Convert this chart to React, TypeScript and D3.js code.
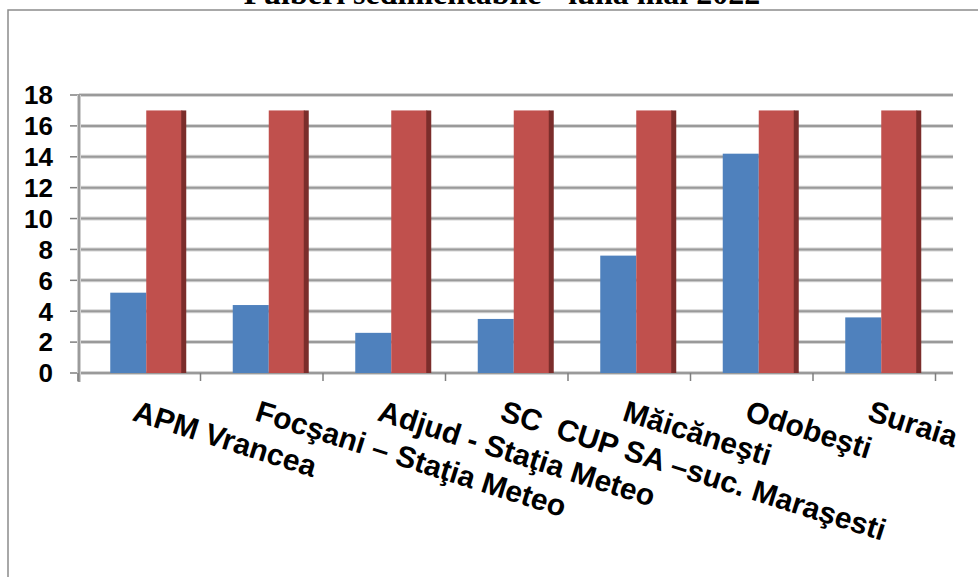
import React from "react";
import * as d3 from "d3";

const categories = [
  "APM Vrancea",
  "Focşani – Staţia Meteo",
  "Adjud - Staţia Meteo",
  "SC  CUP SA –suc. Maraşesti",
  "Măicăneşti",
  "Odobeşti",
  "Suraia",
];
const measured = [5.2, 4.4, 2.6, 3.5, 7.6, 14.2, 3.6];
const limitValues = [17, 17, 17, 17, 17, 17, 17];
const yTicks = [0, 2, 4, 6, 8, 10, 12, 14, 16, 18];
const title = "Pulberi sedimentabile - luna mai 2022";

const W = 978;
const H = 577;

export default function App() {
  const y = d3.scaleLinear().domain([0, 18]).range([373, 95]);
  const x0 = d3.scaleBand<string>().domain(categories).range([78, 935.5]).padding(0);
  const x1 = d3.scaleBand<string>().domain(["m", "l"]).range([-29, 43]).padding(0);
  const bw = x1.bandwidth();
  const sans = "'Liberation Sans', Arial, sans-serif";
  const gridRight = 953;
  const axisX = 79;

  return (
    <svg
      width={W}
      height={H}
      style={{ position: "absolute", left: 0, top: 0, background: "#fff" }}
    >
      <rect x={0} y={0} width={W} height={H} fill="#fff" />
      {/* title (cut at top) */}
      <text
        x={502}
        y={4}
        textAnchor="middle"
        fontFamily="'Liberation Serif', 'Times New Roman', serif"
        fontWeight="bold"
        fontSize={32}
        fill="#000"
      >
        {title}
      </text>
      {/* outer frame */}
      <rect x={8} y={10} width={W + 20} height={H + 20} fill="none" stroke="#8c8c8c" strokeWidth={1.5} />

      {/* gridlines */}
      {yTicks.map((t) => (
        <g key={"g" + t}>
          <line x1={axisX} x2={gridRight} y1={y(t)} y2={y(t)} stroke="#d4d4d4" strokeWidth={4} />
          <line x1={axisX} x2={gridRight} y1={y(t)} y2={y(t)} stroke="#9a9a9a" strokeWidth={2} />
          <line x1={70} x2={axisX} y1={y(t)} y2={y(t)} stroke="#7f7f7f" strokeWidth={1.5} />
        </g>
      ))}
      {/* y axis line */}
      <line x1={axisX} x2={axisX} y1={y(18)} y2={382} stroke="#d0d0d0" strokeWidth={4} />
      <line x1={axisX} x2={axisX} y1={y(18)} y2={382} stroke="#8a8a8a" strokeWidth={1.5} />

      {/* x ticks */}
      {categories.map((c, i) => (
        <line
          key={"xt" + i}
          x1={(x0(c) as number)}
          x2={(x0(c) as number)}
          y1={373}
          y2={381}
          stroke="#7f7f7f"
          strokeWidth={1.5}
        />
      ))}
      <line x1={935.5} x2={935.5} y1={373} y2={381} stroke="#7f7f7f" strokeWidth={1.5} />

      {/* bars */}
      {categories.map((c, i) => {
        const cx = (x0(c) as number) + x0.bandwidth() / 2;
        const bx = cx + (x1("m") as number);
        const rx = cx + (x1("l") as number);
        return (
          <g key={"b" + i}>
            <rect x={bx} y={y(measured[i])} width={bw} height={y(0) - y(measured[i])} fill="#4f81bd" />
            <rect x={rx} y={y(limitValues[i])} width={bw} height={y(0) - y(limitValues[i])} fill="#c0504d" />
            <rect x={rx + bw - 1} y={y(limitValues[i])} width={5} height={y(0) - y(limitValues[i])} fill="#7b2d2b" />
          </g>
        );
      })}

      {/* y labels */}
      {yTicks.map((t) => (
        <text
          key={"yl" + t}
          x={53}
          y={y(t)}
          dy="0.36em"
          textAnchor="end"
          fontFamily={sans}
          fontWeight="bold"
          fontSize={26}
          fill="#000"
        >
          {t}
        </text>
      ))}

      {/* x labels */}
      {categories.map((c, i) => {
        const cx = (x0(c) as number) + x0.bandwidth() / 2;
        return (
          <text
            key={"xl" + i}
            transform={`translate(${cx - 8},420) rotate(17.5)`}
            textAnchor="start"
            fontFamily={sans}
            fontWeight="bold"
            fontSize={30}
            fill="#000"
            style={{ whiteSpace: "pre" }}
          >
            {c}
          </text>
        );
      })}
    </svg>
  );
}
